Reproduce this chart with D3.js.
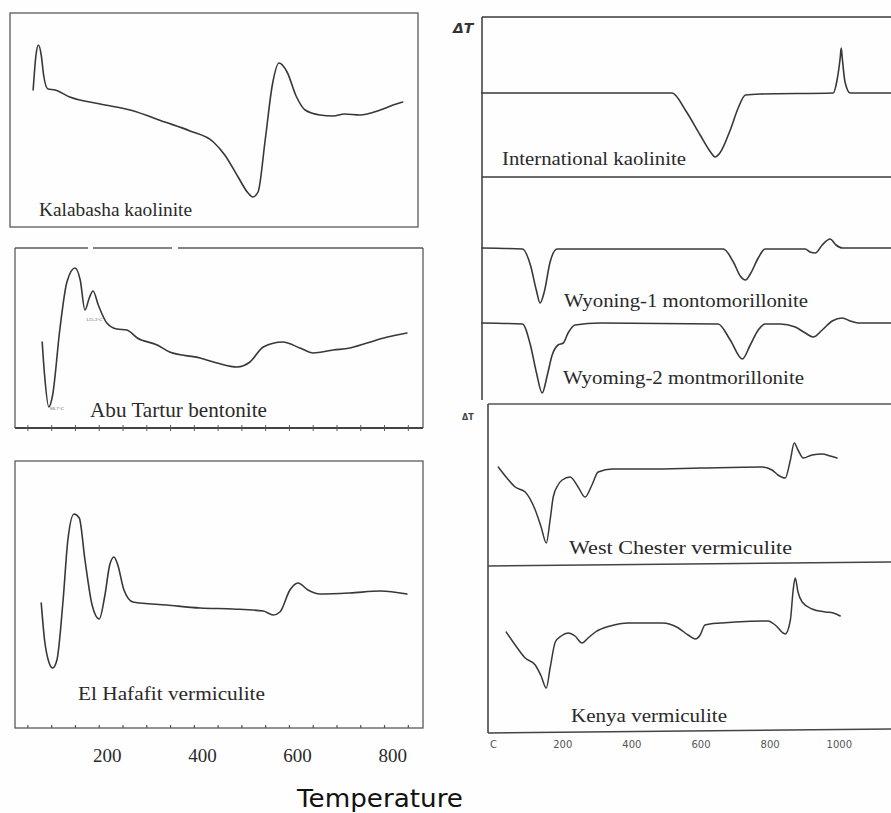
<!DOCTYPE html>
<html><head><meta charset="utf-8">
<script src="https://cdn.jsdelivr.net/npm/d3@7"></script>
<style>body{margin:0;background:#fff}svg{display:block}</style>
</head><body>
<svg id="c" width="891" height="813"></svg>
<script>
// ---------- DATA (temperature °C, ΔT arbitrary units) ----------
const leftTicks = [200, 400, 600, 800];
const rightTicks = [0, 200, 400, 600, 800, 1000];
const rightTickLabels = ["C", "200", "400", "600", "800", "1000"];
const leftMinorTicks = [34, 84, 134, 184, 234, 284, 334, 384, 434, 484, 534, 584, 634, 684, 734, 784, 834];

const kalabashaT  = [45,51,56,62,67,76,91,122,186,249,322,375,424,448,476,497,507,518,533,548,562,579,598,617,648,676,700,732,775,802,822];
const kalabashaDT = [137,172,182,172,152,138,137,130,123,117,105,96,85,72,50,34,30,35,87,142,164,155,131,117,112,111,113,112,117,122,125];

const abuTarturT  = [64,69,78,86,101,116,133,144,154,163,171,182,200,221,242,264,306,332,396,432,474,501,529,570,606,634,676,711,747,790,831];
const abuTarturDT = [86,53,21,33,98,146,160,148,118,130,137,123,105,99,98,90,83,76,70,65,61,66,81,86,80,75,78,80,85,91,95];

const elHafafitT  = [62,69,78,86,95,108,118,131,142,154,169,184,196,206,215,223,236,255,326,396,465,529,550,564,585,602,623,648,711,775,831];
const elHafafitDT = [125,88,66,60,68,128,188,214,210,168,123,109,133,163,171,163,138,126,123,120,119,117,113,116,138,145,138,134,135,137,134];

const intKaolT  = [-32,518,556,599,629,642,656,686,709,730,773,984,995,1004,1007,1010,1018,1033,1151];
const intKaolDT = [84,84,67,42,25,20,24,47,69,82,83,84,97,119,129,119,95,84,84];

const wyoming1T  = [-32,85,108,125,136,148,165,185,666,695,715,730,744,767,787,903,917,932,952,975,992,1010,1151];
const wyoming1DT = [152,151,135,110,97,108,138,151,151,138,124,120,126,142,151,151,148,147,155,161,155,152,152];

const wyoming2T  = [-32,85,108,125,142,157,171,188,203,217,237,310,651,686,721,744,767,787,830,874,903,926,952,981,1010,1033,1056,1151];
const wyoming2DT = [77,76,55,28,7,25,45,55,57,67,75,77,76,60,41,55,70,76,76,73,67,63,70,79,82,79,77,77];

const westChesterT  = [15,40,64,93,122,139,154,165,174,188,200,223,246,266,286,304,345,454,599,778,807,824,845,860,871,882,897,923,952,975,995];
const westChesterDT = [98,87,78,73,55,38,22,45,68,80,85,88,78,68,80,93,96,96,97,98,95,90,87,105,122,115,107,110,111,109,107];

const kenyaT  = [38,64,93,122,139,154,165,180,197,217,237,257,275,296,339,391,490,536,564,585,599,613,656,701,796,816,845,860,868,874,882,894,923,961,984,1004];
const kenyaDT = [101,88,75,68,57,45,65,91,97,100,97,90,95,101,107,110,110,105,98,94,98,108,110,111,112,108,99,113,143,155,141,131,124,121,120,117];

const sampleNames = ["Kalabasha kaolinite","Abu Tartur bentonite","El Hafafit vermiculite",
  "International kaolinite","Wyoning-1 montomorillonite","Wyoming-2 montmorillonite",
  "West Chester  vermiculite","Kenya vermiculite"];

// ---------- LAYOUT ----------
const svg = d3.select("#c");
svg.append("rect").attr("width",891).attr("height",813).attr("fill","#fefefe");

const xL = d3.scaleLinear().domain([0, 850]).range([11.75, 11.75 + 0.4755*850]);
const xR = d3.scaleLinear().domain([-32, 1151]).range([482, 891]);
const yS = bottom => d3.scaleLinear().domain([0, 100]).range([bottom, bottom - 100]);

const curveCol = "#383838", boxCol = "#5a5a5a";
const serif = "'Liberation Serif','Times New Roman',serif";

function rect(x0,y0,x1,y1,col,w){
  svg.append("rect").attr("x",x0).attr("y",y0).attr("width",x1-x0).attr("height",y1-y0)
    .attr("fill","none").attr("stroke",col).attr("stroke-width",w);
}
function line(x0,y0,x1,y1,col,w){
  svg.append("line").attr("x1",x0).attr("y1",y0).attr("x2",x1).attr("y2",y1)
    .attr("stroke",col).attr("stroke-width",w);
}
function curve(xs, ys, x, y, w){
  const pts = xs.map((t,i)=>[t, ys[i]]);
  svg.append("path").datum(pts)
    .attr("d", d3.line().x(d=>x(d[0])).y(d=>y(d[1])).curve(d3.curveMonotoneX))
    .attr("fill","none").attr("stroke",curveCol).attr("stroke-width",w||1.6)
    .attr("stroke-linejoin","round").attr("stroke-linecap","round");
}
function label(txt, x, y, size, len){
  const t = svg.append("text").attr("x",x).attr("y",y).text(txt)
    .attr("font-family",serif).attr("font-size",size).attr("fill","#2a2a2a");
  if(len) t.attr("textLength",len).attr("lengthAdjust","spacingAndGlyphs");
  return t;
}

// Left panel frames
rect(10,13,418,227,boxCol,1.3);
// panel 2 frame (top border with small gaps)
line(15,248,88,248,boxCol,1.3); line(93,248,172,248,boxCol,1.3); line(178,248,423,248,boxCol,1.3);
line(15,248,15,428,boxCol,1.3); line(423,248,423,428,boxCol,1.3);
line(15,428,423,428,"#444",2.2);
svg.append("g").selectAll("line").data(leftMinorTicks).join("line")
  .attr("x1",d=>xL(d)).attr("x2",d=>xL(d)).attr("y1",425).attr("y2",431)
  .attr("stroke","#555").attr("stroke-width",1);
rect(15,461,423,728,boxCol,1.3);
svg.append("g").selectAll("line").data(leftMinorTicks).join("line")
  .attr("x1",d=>xL(d)).attr("x2",d=>xL(d)).attr("y1",728).attr("y2",725)
  .attr("stroke","#555").attr("stroke-width",1.2);

// Left curves
curve(kalabashaT, kalabashaDT, xL, yS(227));
curve(abuTarturT, abuTarturDT, xL, yS(428));
curve(elHafafitT, elHafafitDT, xL, yS(728));

label(sampleNames[0], 39, 216, 19, 153);
label(sampleNames[1], 90, 417, 21, 177);
label(sampleNames[2], 78, 700, 19, 187);
// tiny peak annotations in the bentonite trace
svg.append("text").attr("x",50).attr("y",410).text("88.7°C")
  .attr("font-family",serif).attr("font-size",5).attr("fill","#666");
svg.append("text").attr("x",86).attr("y",321).text("125.3°C")
  .attr("font-family",serif).attr("font-size",5).attr("fill","#666");

// Left temperature axis labels
const axL = svg.append("g").attr("transform","translate(0,744)")
  .call(d3.axisBottom(xL).tickValues(leftTicks).tickSize(0).tickPadding(5).tickFormat(d3.format("d")));
axL.select(".domain").remove();
axL.selectAll("text").attr("font-family",serif).attr("font-size",19).attr("fill","#2a2a2a");

svg.append("text").attr("x",380).attr("y",807).attr("text-anchor","middle").text("Temperature")
  .attr("font-family","'DejaVu Sans',Verdana,sans-serif").attr("font-size",25).attr("fill","#111")
  .attr("textLength",166).attr("lengthAdjust","spacingAndGlyphs");

// Right upper frame
const rc = "#3a3a3a";
line(482,17,482,400,rc,1.5);
line(482,17,891,17,rc,1.5);
line(482,177,891,177,rc,1.5);
svg.append("text").attr("x",453).attr("y",33).text("ΔT")
  .attr("font-family","'DejaVu Sans',sans-serif").attr("font-size",14).attr("font-weight","bold")
  .attr("font-style","italic").attr("fill","#333");

curve(intKaolT, intKaolDT, xR, yS(177));
curve(wyoming1T, wyoming1DT, xR, yS(400));
curve(wyoming2T, wyoming2DT, xR, yS(400));
label(sampleNames[3], 502, 165, 18, 184);
label(sampleNames[4], 564, 307, 18, 244);
label(sampleNames[5], 563, 384, 18, 241);

// Right lower frame
line(488,404,891,404,"#555",1.4);
line(488,404,488,733,"#444",1.6);
line(488,566,891,562,"#444",1.5);
line(488,733,891,729,"#444",1.6);
svg.append("text").attr("x",462).attr("y",420).text("ΔT")
  .attr("font-family","'DejaVu Sans',sans-serif").attr("font-size",8).attr("font-weight","bold").attr("fill","#444");

curve(westChesterT, westChesterDT, xR, yS(565), 1.5);
curve(kenyaT, kenyaDT, xR, yS(733), 1.5);
label(sampleNames[6], 569, 554, 18, 223);
label(sampleNames[7], 571, 722, 18, 156);

const axR = svg.append("g").attr("transform","translate(0,737)")
  .call(d3.axisBottom(xR).tickValues(rightTicks).tickSize(0).tickPadding(4)
    .tickFormat((d,i)=>rightTickLabels[i]));
axR.select(".domain").remove();
axR.selectAll("text").attr("font-family","'DejaVu Sans',sans-serif").attr("font-size",10).attr("fill","#555");
</script>
</body></html>
